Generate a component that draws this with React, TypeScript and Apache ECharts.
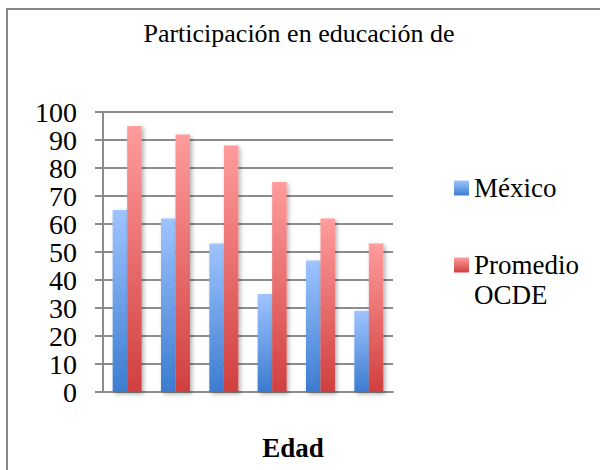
import React, { useEffect, useRef } from "react";
import * as echarts from "echarts";

const title = "Participación en educación de";
const xName = "Edad";
const categories = ["", "", "", "", "", ""];
const seriesNames = ["México", "Promedio OCDE"];
const mexico = [65, 62, 53, 35, 47, 29];
const ocde = [95, 92, 88, 75, 62, 53];
const yTicks = { min: 0, max: 100, interval: 10 };

const FONT = "'Liberation Serif', serif";

export default function App() {
  const ref = useRef<HTMLDivElement>(null);
  useEffect(() => {
    if (!ref.current) return;
    const chart = echarts.init(ref.current, null, { renderer: "svg" });
    const blue = new echarts.graphic.LinearGradient(0, 0, 0, 1, [
      { offset: 0, color: "#9fc4ff" },
      { offset: 1, color: "#3b7cd0" },
    ]);
    const red = new echarts.graphic.LinearGradient(0, 0, 0, 1, [
      { offset: 0, color: "#ff9c9c" },
      { offset: 1, color: "#d13f3f" },
    ]);
    const option: any = {
      animation: false,
      backgroundColor: "#ffffff",
      textStyle: { fontFamily: FONT },
      graphic: [
        {
          type: "rect",
          shape: { x: 7, y: 9, width: 800, height: 800 },
          style: { fill: "none", stroke: "#888888", lineWidth: 2 },
          silent: true,
        },
        {
          type: "text",
          x: 299,
          y: 33,
          style: {
            text: title,
            fontFamily: FONT,
            fontSize: 26,
            fill: "#000",
            align: "center",
            verticalAlign: "middle",
          },
        },
        {
          type: "text",
          x: 293,
          y: 448,
          style: {
            text: xName,
            fontFamily: FONT,
            fontSize: 27,
            fontWeight: "bold",
            fill: "#000",
            align: "center",
            verticalAlign: "middle",
          },
        },
      ],
      legend: {
        orient: "vertical",
        left: 449,
        top: 168,
        itemWidth: 15,
        itemHeight: 15,
        itemGap: 17,
        icon: "rect",
        textStyle: { fontFamily: FONT, fontSize: 27, color: "#000", lineHeight: 30 },
        formatter: (n: string) => (n === "Promedio OCDE" ? "\nPromedio\nOCDE" : n),
        data: [{ name: seriesNames[0] }, { name: seriesNames[1] }],
      },
      grid: { left: 103, right: 207, top: 112, bottom: 78, containLabel: false },
      xAxis: {
        type: "category",
        data: categories,
        axisLine: { show: true, lineStyle: { color: "#8c8c8c", width: 2 } },
        axisTick: { show: false },
        axisLabel: { show: false },
      },
      yAxis: {
        type: "value",
        min: yTicks.min,
        max: yTicks.max,
        interval: yTicks.interval,
        axisLine: { show: true, lineStyle: { color: "#8c8c8c", width: 2 } },
        axisTick: { show: true, length: 8, lineStyle: { color: "#8c8c8c", width: 2 } },
        axisLabel: { fontFamily: FONT, fontSize: 28, color: "#000", margin: 26 },
        splitLine: { show: true, lineStyle: { color: "#8c8c8c", width: 2 } },
      },
      series: [
        {
          name: seriesNames[0],
          type: "bar",
          data: mexico,
          barWidth: "30%",
          barGap: "0%",
          itemStyle: {
            color: blue,
            shadowColor: "rgba(0,0,0,0.3)",
            shadowBlur: 4,
            shadowOffsetX: 2,
            shadowOffsetY: 2,
          },
        },
        {
          name: seriesNames[1],
          type: "bar",
          data: ocde,
          barWidth: "30%",
          barGap: "0%",
          itemStyle: {
            color: red,
            shadowColor: "rgba(0,0,0,0.3)",
            shadowBlur: 4,
            shadowOffsetX: 2,
            shadowOffsetY: 2,
          },
        },
      ],
    };
    chart.setOption(option);
    return () => chart.dispose();
  }, []);
  return (
    <div
      ref={ref}
      style={{ position: "fixed", left: 0, top: 0, width: 600, height: 470 }}
    />
  );
}
